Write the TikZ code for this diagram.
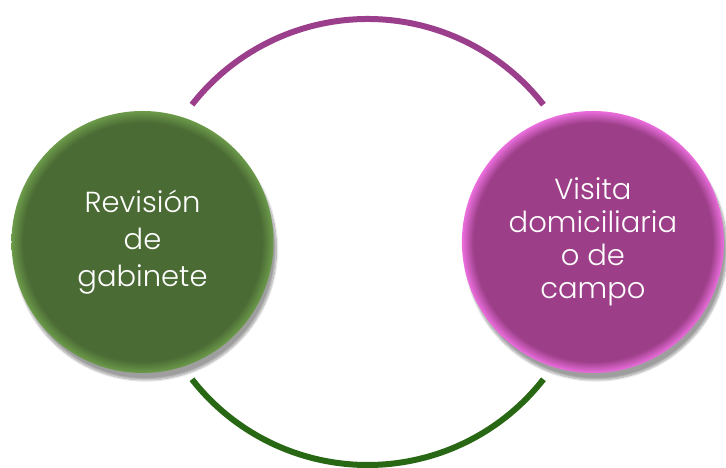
\documentclass[tikz,border=0pt]{standalone}
\usepackage{fontspec}
\setmainfont{Poppins}[UprightFont={* Light}]
\usepackage{tikz}
\usetikzlibrary{positioning, calc, shadows.blur}
\definecolor{gabgreen}{RGB}{75, 107, 53}
\definecolor{gabrim}{RGB}{108, 155, 74}
\definecolor{arcgreen}{RGB}{40, 104, 20}
\definecolor{visitpurple}{RGB}{156, 63, 136}
\definecolor{visitrim}{RGB}{236, 110, 222}
\definecolor{arcpurple}{RGB}{155, 63, 140}
\pgfdeclareradialshading{greenball}{\pgfpoint{0bp}{0bp}}{color(0bp)=(gabgreen); color(22.8bp)=(gabgreen); color(25bp)=(gabrim); color(50bp)=(gabrim)}
\pgfdeclareradialshading{purpleball}{\pgfpoint{0bp}{0bp}}{color(0bp)=(visitpurple); color(22.8bp)=(visitpurple); color(25bp)=(visitrim); color(50bp)=(visitrim)}

\begin{document}
\begin{tikzpicture}[x=1bp, y=1bp,
        ball/.style={circle, minimum size=262bp, inner sep=0pt, align=center,
                     text=white,
                     blur shadow={shadow xshift=3bp, shadow yshift=-7bp,
                                  shadow opacity=38, shadow blur steps=12}},
        link/.style={line width=6bp}]
    \useasboundingbox (0,0) rectangle (726,468);

    \node[ball, shading=greenball, font=\fontsize{29bp}{37bp}\selectfont]
          (gab) at (142.5,226) {Revisión\\de\\gabinete};
    \node[ball, shading=purpleball, font=\fontsize{29bp}{33bp}\selectfont,
          right=188bp of gab] (visit) {Visita\\domiciliaria\\o de\\campo};

    % arcs between the two circles
    \coordinate (hub) at ($(gab)!0.5!(visit)$);
    \coordinate (topstart) at ([shift={(142:223bp)}]hub);
    \coordinate (botstart) at ([shift={(218:223bp)}]hub);

    \draw[link, arcpurple] (topstart) arc[start angle=142, end angle=38, radius=223bp];
    \draw[link, arcgreen] (botstart) arc[start angle=218, end angle=322, radius=223bp];
\end{tikzpicture}
\end{document}
